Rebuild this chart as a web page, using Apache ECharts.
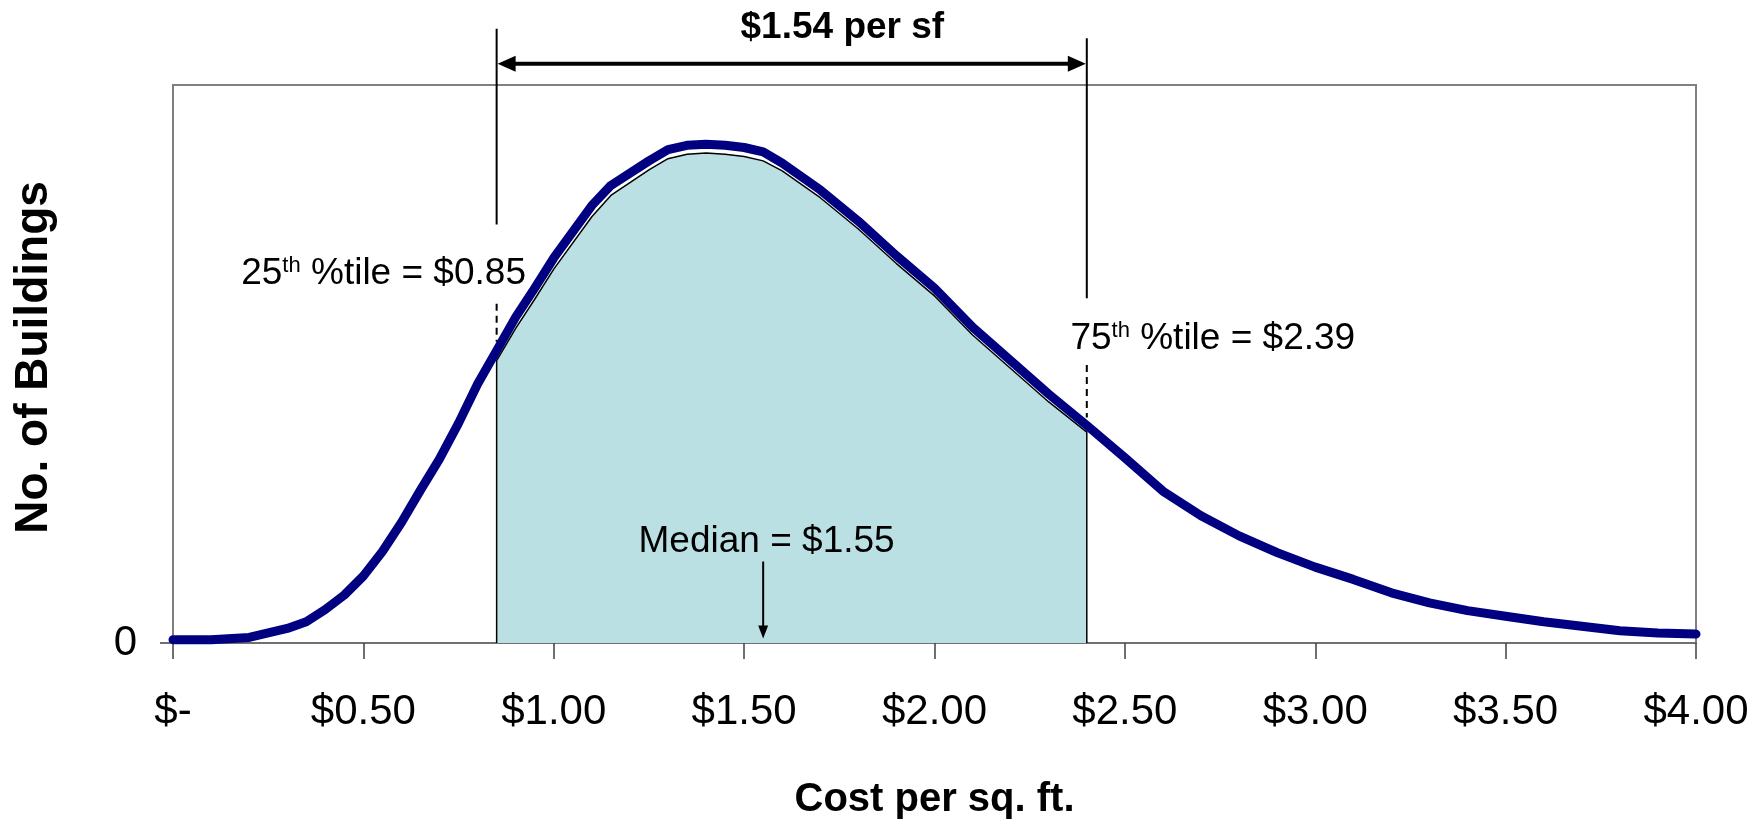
<!DOCTYPE html>
<html><head><meta charset="utf-8">
<script src="https://cdn.jsdelivr.net/npm/echarts@6/dist/echarts.min.js"></script>
<style>html,body{margin:0;padding:0;background:#fff}#c{width:1752px;height:830px}</style>
</head><body><div id="c"></div>
<script>
// ---- data ----
const curveX = [0.00,0.10,0.20,0.30,0.35,0.40,0.45,0.50,0.55,0.60,0.65,0.70,0.75,0.80,0.85,0.90,0.95,1.00,1.10,1.15,1.25,1.30,1.35,1.40,1.45,1.50,1.55,1.60,1.70,1.80,1.90,2.00,2.10,2.20,2.30,2.40,2.50,2.60,2.70,2.80,2.90,3.00,3.10,3.20,3.30,3.40,3.50,3.60,3.70,3.80,3.90,4.00];
const curveY = [3,3,5,13,19,30,43,60,82,108,137,165,197,232,262,292,318,345,392,410,432,442,446,447,446,444,440,430,406,378,347,318,283,253,223,195,166,136,114,96,81,68,57,45,36,29,24,19,15,11,9,8];
const shadeX = [0.85,0.85,0.90,0.95,1.00,1.10,1.15,1.25,1.30,1.35,1.40,1.45,1.50,1.55,1.60,1.70,1.80,1.90,2.00,2.10,2.20,2.30,2.40,2.40];
const shadeY = [0,253,282,308,335,382,401,424,434,438,439,438,436,432,423,399,371,340,311,276,246,216,189,0];
const xTicks = [0,0.5,1,1.5,2,2.5,3,3.5,4];
const xTickLabels = ['$-','$0.50','$1.00','$1.50','$2.00','$2.50','$3.00','$3.50','$4.00'];
const yTicks = [0];
const yTickLabels = ['0'];
const p25 = 0.85, p75 = 2.40, medianX = 1.55;
const txtSpread = '$1.54 per sf';
const txtP25 = ['25','th',' %tile = $0.85'];
const txtP75 = ['75','th',' %tile = $2.39'];
const txtMedian = 'Median = $1.55';
const xTitle = 'Cost per sq. ft.';
const yTitle = 'No. of Buildings';

// ---- font detection ----
function hasFont(name){
  const c=document.createElement('canvas').getContext('2d');
  c.font='48px monospace'; const a=c.measureText('$0.50 abcMW').width;
  c.font='48px "'+name+'", monospace'; const b=c.measureText('$0.50 abcMW').width;
  return a!==b;
}
const narrow = hasFont('Liberation Sans Narrow');
const tickFont = narrow ? {family:'"Liberation Sans Narrow", sans-serif', size:48, margin:46}
                        : {family:'"Liberation Sans", Arial, sans-serif', size:42, margin:48};
const FF = '"Liberation Sans", Arial, Helvetica, sans-serif';

const chart = echarts.init(document.getElementById('c'), null, {renderer:'canvas'});
chart.setOption({
  animation:false,
  backgroundColor:'#ffffff',
  grid:{left:173,right:56,top:85,bottom:187,show:true,borderColor:'#808080',borderWidth:2,backgroundColor:'transparent'},
  xAxis:{
    type:'value',min:0,max:4,interval:0.5,
    name:xTitle,nameLocation:'middle',nameGap:137,
    nameTextStyle:{fontFamily:FF,fontWeight:'bold',fontSize:40,color:'#000'},
    axisLine:{show:true,lineStyle:{color:'#707070',width:2}},
    axisTick:{show:true,inside:false,length:16,lineStyle:{color:'#404040',width:1.5}},
    axisLabel:{margin:tickFont.margin,fontFamily:tickFont.family,fontSize:tickFont.size,color:'#000',
      formatter:(v)=>{const i=xTicks.findIndex(t=>Math.abs(t-v)<1e-9);return i>=0?xTickLabels[i]:'';}},
    splitLine:{show:false}
  },
  yAxis:{
    type:'value',min:0,max:500,
    name:yTitle,nameLocation:'middle',nameGap:116,
    nameTextStyle:{fontFamily:FF,fontWeight:'bold',fontSize:46,color:'#000',padding:[0,0,0,13]},
    axisLine:{show:true,lineStyle:{color:'#808080',width:2}},
    axisTick:{show:true,length:13,customValues:yTicks,lineStyle:{color:'#404040',width:1.5}},
    axisLabel:{show:true,customValues:yTicks,margin:36,fontFamily:tickFont.family,fontSize:tickFont.size,color:'#000',
      formatter:(v)=>{const i=yTicks.indexOf(v);return i>=0?yTickLabels[i]:'';}},
    splitLine:{show:false}
  },
  series:[
    {type:'line',name:'Interquartile range',data:shadeX.map((x,i)=>[x,shadeY[i]]),
     showSymbol:false,symbol:'none',smooth:false,z:2,
     lineStyle:{color:'#000',width:1.5},areaStyle:{color:'#BAE0E4',opacity:1}},
    {type:'line',name:'Buildings',data:curveX.map((x,i)=>[x,curveY[i]]),
     showSymbol:false,symbol:'none',smooth:false,z:3,
     lineStyle:{color:'#000080',width:9,cap:'round',join:'round'}}
  ]
});

function P(x,y){return chart.convertToPixel({gridIndex:0},[x,y]);}
const g=[];
function vline(x,y1,y2,dash){const a=P(x,y1),b=P(x,y2);
  g.push({type:'line',z:100,shape:{x1:a[0],y1:a[1],x2:b[0],y2:b[1]},style:{stroke:'#000',lineWidth:2,lineDash:dash||null}});}
vline(p25,375,550.4);
vline(p25,304,270,[7,5]);
vline(p75,309,542);
vline(p75,249,202,[7,5]);
// double arrow
(function(){const a=P(p25,519),b=P(p75,519);const y=a[1],L=a[0]+1,R=b[0]-1,hl=18,hw=8;
  g.push({type:'line',z:100,shape:{x1:L+hl-2,y1:y,x2:R-hl+2,y2:y},style:{stroke:'#000',lineWidth:4}});
  g.push({type:'polygon',z:100,shape:{points:[[L,y],[L+hl,y-hw],[L+hl,y+hw]]},style:{fill:'#000'}});
  g.push({type:'polygon',z:100,shape:{points:[[R,y],[R-hl,y-hw],[R-hl,y+hw]]},style:{fill:'#000'}});
})();
// median arrow
(function(){const a=P(medianX,73),b=P(medianX,4);const x=a[0];
  g.push({type:'line',z:100,shape:{x1:x,y1:a[1],x2:x,y2:b[1]-10},style:{stroke:'#000',lineWidth:2}});
  g.push({type:'polygon',z:100,shape:{points:[[x,b[1]],[x-5,b[1]-13],[x+5,b[1]-13]]},style:{fill:'#000'}});
})();
function txt(x,y,text,align,opts){const p=P(x,y);
  g.push({type:'text',z:101,x:p[0],y:p[1],style:Object.assign({text:text,align:align,verticalAlign:'middle',fill:'#000',fontFamily:FF,fontSize:37},opts||{})});}
txt(1.758,551,txtSpread,'center',{fontWeight:'bold',fontSize:37});
txt(1.559,91,txtMedian,'center');
const rich={n:{fontFamily:FF,fontSize:37,fill:'#000'},s:{fontFamily:FF,fontSize:22,fill:'#000',verticalAlign:'top'}};
txt(0.927,331,'{n|'+txtP25[0]+'}{s|'+txtP25[1]+'}{n|'+txtP25[2]+'}','right',{rich:rich});
txt(2.357,272.5,'{n|'+txtP75[0]+'}{s|'+txtP75[1]+'}{n|'+txtP75[2]+'}','left',{rich:rich});
chart.setOption({graphic:{elements:g}});
</script></body></html>
